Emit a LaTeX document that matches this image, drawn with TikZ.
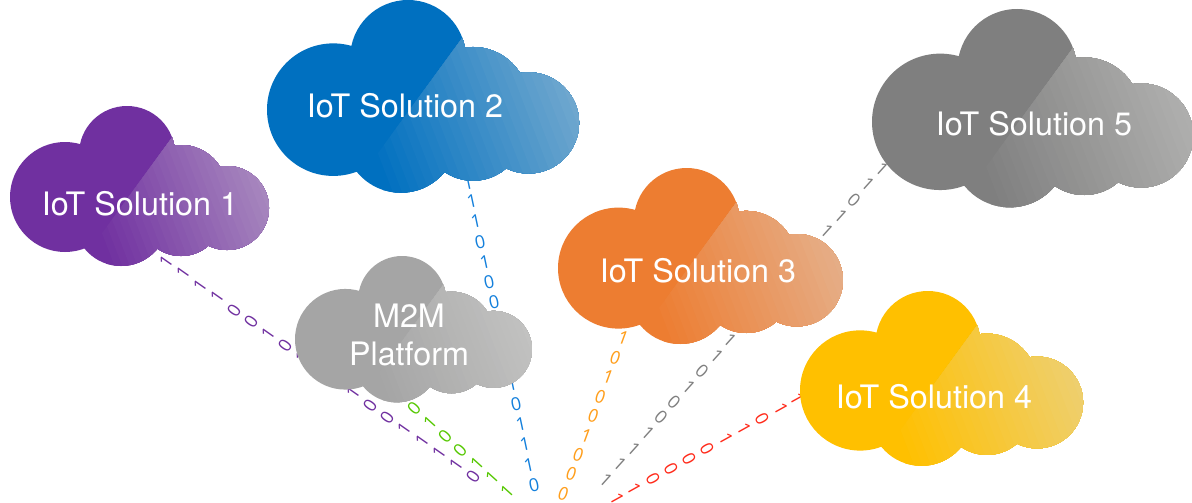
\documentclass[tikz,border=0pt]{standalone}
\usepackage{fontspec}
\setmainfont{TeX Gyre Heros}
\newfontfamily\bitfont{Open Sans}
\definecolor{cPurple}{HTML}{7030A0}
\definecolor{cBlue}{HTML}{0070C0}
\definecolor{cOrange}{HTML}{ED7D31}
\definecolor{cYellow}{HTML}{FFC000}
\definecolor{cGray}{HTML}{7F7F7F}
\definecolor{cPlat}{HTML}{A5A5A5}
\definecolor{cSheen}{HTML}{DEDEDC}
\definecolor{dGreen}{HTML}{55C800}
\definecolor{dBlue}{HTML}{1480DC}
\definecolor{dOrange}{HTML}{FF9E1B}
\definecolor{dRed}{HTML}{FF2A1A}
\tikzset{
  cloudlabel/.style={text=white,inner sep=0pt,align=center,font=\fontsize{32.3}{38}\selectfont},
  bitlabel/.style={inner sep=0pt,font=\bitfont\fontsize{18}{18}\selectfont},
}
% #1 left, #2 top, #3 scale, #4 colour  (outline defined in a 259 x 161 frame)
\newcommand\cloudshape[4]{%
  \begin{scope}[shift={(#1,#2)},scale=#3,shift={(-10,-106)}]
    \begin{scope}
      \clip (65,197) circle (55) (127,154) circle (48) (181,191) circle (46)
            (181,214) circle (42) (227,208) circle (42) (121,219) circle (47)
            (140,195) circle (45);
      \fill[#4] (0,100) rectangle (280,275);
      \clip (190,113) -- (82,260.5) -- (82,275) -- (300,275) -- (300,100) -- (190,100) -- cycle;
      \begin{scope}[shift={(97,240)},rotate=21]
        \foreach \k in {0,...,24}{
          \pgfmathsetmacro\mixval{100-50*\k/24}
          \pgfmathsetmacro\startval{\k*7.1}
          \fill[#4!\mixval!cSheen] (\startval,-250) rectangle (400,250);
        }
      \end{scope}
    \end{scope}
  \end{scope}%
}
% #1 id, #2 options, #3 list x/y/digit
\newcommand\bitrun[3]{%
  \foreach \bx/\by/\bd [count=\bi] in {#3}
    \node[bitlabel,#2] (#1\bi) at (\bx,\by) {\bd};%
}
\begin{document}
\begin{tikzpicture}[x=1pt,y=-1pt]
\path[use as bounding box,fill=white] (0,0) rectangle (1192,503);
% digits
\bitrun{pa}{text=cPurple,rotate=55}{166/262/1,183/273/1,200/286/1,217/297/1,234/311/0,251/322/0,268/334/1,285/346/0,302/358/1,353/393/1,370/406/0,387/418/0,404/429/1,422/441/1,439/453/1,456/465/1,473/477/0}
\bitrun{gr}{text=dGreen,rotate=48}{414/408/0,430/422/1,445/436/0,460/450/0,477/463/1,492/477/1,507/491/1}
\bitrun{bl}{text=dBlue,rotate=12}{468/183/1,472/201/1,476/221/1,480/242/0,485/262/1,489/282/0,494/302/0,512/384/1,516/404/0,521/424/1,525/444/1,529/465/1,534/485/0}
\bitrun{or}{text=dOrange,rotate=-8,font=\bitfont\fontsize{18}{18}\selectfont\itshape}{623/338/1,615/358/0,608/377/1,600/397/0,593/416/0,586/436/1,578/455/0,571/474/0,563/494/0}
\bitrun{ga}{text=cGray,rotate=-42}{730/340/1,717/356/1,702/371/0,689/387/1,674/402/0,661/417/0,648/433/1,634/449/1,620/464/1,606/480/1}
\bitrun{gb}{text=cGray,rotate=-42}{882/169/1,868/184/1,854/200/0,841/216/1,827/231/1}
\bitrun{re}{text=dRed,rotate=-61}{797/399/1,781/409/1,762/419/0,744/429/1,726/439/1,707/449/0,689/459/0,671/469/0,653/479/0,634/489/1,617/499/1}
% clouds
\cloudshape{10}{106}{1}{cPurple}
\cloudshape{267}{0}{1.205}{cBlue}
\cloudshape{558}{168}{1.1}{cOrange}
\cloudshape{800}{291}{1.093}{cYellow}
\cloudshape{872}{9}{1.24}{cGray}
\cloudshape{295}{256}{0.915}{cPlat}
% labels
\node[cloudlabel] (s1) at (140,204) {IoT Solution 1};
\node[cloudlabel] (s2) at (405,106) {IoT Solution 2};
\node[cloudlabel] (s3) at (698,271) {IoT Solution 3};
\node[cloudlabel] (s4) at (934,397) {IoT Solution 4};
\node[cloudlabel] (s5) at (1034,124) {IoT Solution 5};
\node[cloudlabel] (m2m) at (409,335) {M2M\\Platform};
\end{tikzpicture}
\end{document}
